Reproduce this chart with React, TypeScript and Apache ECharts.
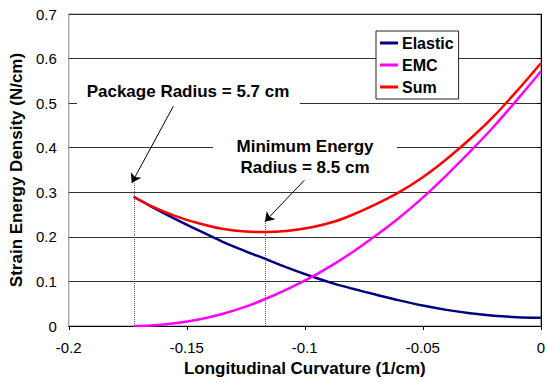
import React, { useEffect, useRef } from "react";
import * as echarts from "echarts";

const curvature = [-0.1725, -0.165, -0.155, -0.145, -0.135, -0.125, -0.117, -0.108, -0.097, -0.087, -0.08, -0.07, -0.06, -0.05, -0.04, -0.03, -0.02, -0.01, 0];
const elastic = [0.29, 0.268, 0.2405, 0.2145, 0.1895, 0.1675, 0.151, 0.132, 0.111, 0.094, 0.084, 0.0705, 0.0575, 0.0458, 0.0362, 0.0286, 0.0232, 0.0199, 0.0185];
const emc = [0, 0.001, 0.006, 0.0145, 0.027, 0.0435, 0.06, 0.081, 0.11, 0.141, 0.165, 0.2025, 0.243, 0.288, 0.338, 0.391, 0.447, 0.508, 0.571];
const sum = [0.29, 0.269, 0.247, 0.2305, 0.218, 0.2118, 0.211, 0.2132, 0.2215, 0.235, 0.249, 0.2728, 0.3003, 0.3338, 0.3742, 0.4196, 0.4702, 0.528, 0.5895];

const packageK = -0.1724;
const minEnergyK = -0.1169;
const arrow1 = [[-0.1557, 0.493], [-0.1733, 0.321]];
const arrow2 = [[-0.1002, 0.327], [-0.1169, 0.234]];

const seriesNames = ["Elastic", "EMC", "Sum"];
const seriesColors = ["#000080", "#FF00FF", "#FF0000"];

const FONT = "Liberation Sans, Arial, sans-serif";

export default function App() {
  const ref = useRef<HTMLDivElement>(null);
  useEffect(() => {
    if (!ref.current) return;
    const chart = echarts.init(ref.current, undefined, { renderer: "svg" });
    const values = [elastic, emc, sum];
    const series: any[] = values.map((v, i) => ({
      name: seriesNames[i],
      type: "line",
      data: curvature.map((x, j) => [x, v[j]]),
      smooth: 0.3,
      showSymbol: false,
      symbol: "none",
      lineStyle: { color: seriesColors[i], width: 2.5 },
      itemStyle: { color: seriesColors[i] },
      z: 3,
    }));
    series.push({
      name: "annotations",
      type: "line",
      data: [],
      z: 2,
      markLine: {
        silent: true,
        animation: false,
        label: { show: false },
        symbolSize: 9,
        data: [
          [
            { coord: [packageK, 0], symbol: "none", lineStyle: { color: "#555", type: "dotted", width: 1 } },
            { coord: [packageK, 0.32], symbol: "none" },
          ],
          [
            { coord: [minEnergyK, 0], symbol: "none", lineStyle: { color: "#555", type: "dotted", width: 1 } },
            { coord: [minEnergyK, 0.234], symbol: "none" },
          ],
          [
            { coord: arrow1[0], symbol: "none", lineStyle: { color: "#000", type: "solid", width: 1 } },
            { coord: arrow1[1], symbol: "arrow" },
          ],
          [
            { coord: arrow2[0], symbol: "none", lineStyle: { color: "#000", type: "solid", width: 1 } },
            { coord: arrow2[1], symbol: "arrow" },
          ],
        ],
      },
    });
    chart.setOption({
      animation: false,
      backgroundColor: "#fff",
      textStyle: { fontFamily: FONT },
      grid: { left: 64, right: 5, top: 14, bottom: 56, show: true, borderColor: "#888", borderWidth: 1 },
      legend: {
        data: seriesNames,
        orient: "vertical",
        left: 376,
        top: 31,
        backgroundColor: "#fff",
        borderColor: "#222",
        borderWidth: 1,
        padding: [4, 5, 4, 4],
        itemGap: 6,
        itemWidth: 18,
        itemHeight: 3,
        icon: "rect",
        textStyle: { fontFamily: FONT, fontSize: 16, fontWeight: "bold", color: "#000", padding: [0, 0, 0, -1] },
      },
      xAxis: {
        type: "value",
        min: -0.2,
        max: 0,
        interval: 0.05,
        name: "Longitudinal Curvature (1/cm)",
        nameLocation: "middle",
        nameGap: 34,
        nameTextStyle: { fontFamily: FONT, fontSize: 17, fontWeight: "bold", color: "#000" },
        axisLine: { onZero: false, lineStyle: { color: "#000", width: 1 } },
        axisTick: { show: true, length: 4, lineStyle: { color: "#000" } },
        axisLabel: { fontFamily: FONT, fontSize: 15, color: "#000", margin: 14 },
        splitLine: { show: false },
      },
      yAxis: {
        type: "value",
        min: 0,
        max: 0.7,
        interval: 0.1,
        name: "Strain Energy Density (N/cm)",
        nameLocation: "middle",
        nameGap: 37,
        nameTextStyle: { fontFamily: FONT, fontSize: 17, fontWeight: "bold", color: "#000" },
        axisLine: { show: true, lineStyle: { color: "#000", width: 1 } },
        axisTick: { show: true, length: 4, lineStyle: { color: "#000" } },
        axisLabel: { fontFamily: FONT, fontSize: 15, color: "#000", margin: 12 },
        splitLine: { show: true, lineStyle: { color: "#333", width: 1 } },
      },
      graphic: [
        { type: "rect", z: 1, shape: { x: 77, y: 76, width: 223, height: 31 }, style: { fill: "#fff" } },
        {
          type: "text",
          z: 1,
          x: 188,
          y: 91,
          style: { text: "Package Radius = 5.7 cm", font: `bold 17px ${FONT}`, fill: "#000", textAlign: "center", textVerticalAlign: "middle" },
        },
        { type: "rect", z: 1, shape: { x: 213, y: 134, width: 184, height: 46 }, style: { fill: "#fff" } },
        {
          type: "text",
          z: 1,
          x: 305,
          y: 146,
          style: { text: "Minimum Energy", font: `bold 17px ${FONT}`, fill: "#000", textAlign: "center", textVerticalAlign: "middle" },
        },
        {
          type: "text",
          z: 1,
          x: 305,
          y: 167,
          style: { text: "Radius = 8.5 cm", font: `bold 17px ${FONT}`, fill: "#000", textAlign: "center", textVerticalAlign: "middle" },
        },
      ],
      series,
    });
    return () => chart.dispose();
  }, []);
  return <div ref={ref} style={{ position: "fixed", left: 0, top: 0, width: 548, height: 382, background: "#fff" }} />;
}
